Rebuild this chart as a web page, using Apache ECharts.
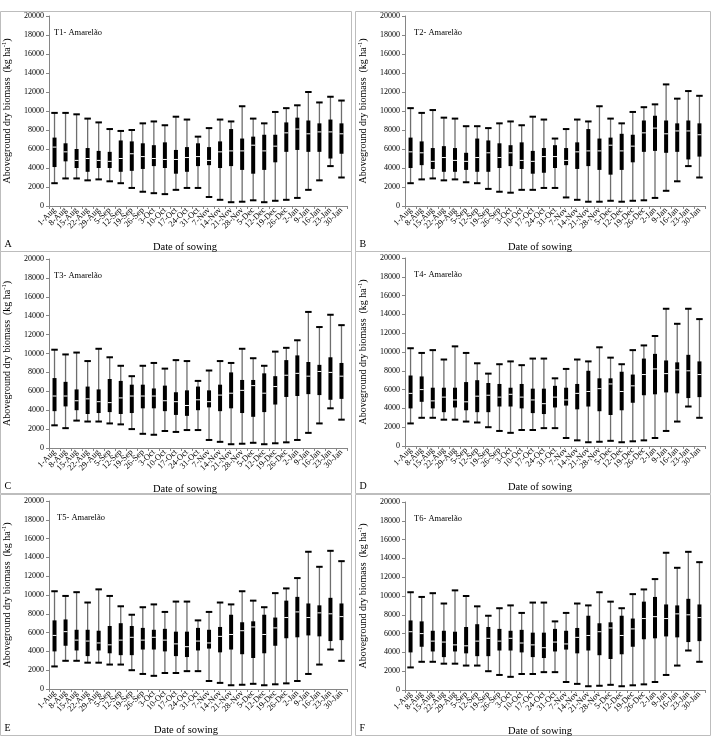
<!DOCTYPE html>
<html><head><meta charset="utf-8">
<script src="https://cdn.jsdelivr.net/npm/echarts@6/dist/echarts.min.js"></script>
<style>html,body{margin:0;padding:0;background:#fff}#c{width:714px;height:744px}</style>
</head><body><div id="c"></div>
<script>
// Categories (date of sowing)
const dates = ['1-Aug','8-Aug','15-Aug','22-Aug','29-Aug','5-Sep','12-Sep','19-Sep','26-Sep','3-Oct','10-Oct','17-Oct','24-Oct','31-Oct','7-Nov','14-Nov','21-Nov','28-Nov','5-Dec','12-Dec','19-Dec','26-Dec','2-Jan','9-Jan','16-Jan','23-Jan','30-Jan'];
const yTicks = [0,2000,4000,6000,8000,10000,12000,14000,16000,18000,20000];
const panelTitles = ['T1- Amarelão','T2- Amarelão','T3- Amarelão','T4- Amarelão','T5- Amarelão','T6- Amarelão'];
const panelLetters = ['A','B','C','D','E','F'];
// each entry: [min, q1, median, q3, max]  (kg ha-1)
const t1 = [[2400,4100,6200,7200,9800],[2900,4700,5700,6600,9800],[2900,4000,4800,6000,9650],[2700,3600,5000,6100,9200],[2800,4000,4800,5800,8800],[2600,4000,4700,5700,8100],[2400,3600,5000,6900,7900],[1900,3700,5500,6800,8000],[1500,3900,5200,6600,8700],[1350,4200,5000,6400,8900],[1250,4000,4900,6700,8500],[1700,3400,4900,5900,9400],[1900,3600,5100,6200,9100],[1900,4200,5200,6600,7300],[950,4300,4800,6200,8200],[650,4000,5700,6800,9100],[400,4200,5800,8100,8900],[450,3800,5800,7100,10500],[600,3400,6400,7300,9200],[400,3800,5800,7500,8700],[550,4600,6300,7500,9900],[650,5700,7700,8800,10300],[850,5900,8100,9300,10600],[1700,5700,7600,9000,12000],[2700,5700,7800,8700,10900],[4200,5000,7800,9100,11500],[3000,5500,7600,8700,11100]];
const t2 = [[2400,4000,5700,7200,10300],[2800,4300,5600,6800,9800],[2900,3900,4700,6100,10100],[2700,3600,5100,6300,9300],[2800,3600,4800,6100,9200],[2500,3800,4700,5600,8400],[2400,3600,5100,7100,8400],[1800,3600,5600,6900,8200],[1500,4000,5100,6600,8700],[1400,4200,5600,6400,8900],[1700,3900,4800,6700,8500],[1700,3400,4700,5800,9400],[1900,3500,5200,6100,9100],[1900,4000,5200,6400,7100],[900,4300,4800,6100,8100],[650,3900,5700,6700,9100],[450,4200,5800,8100,8900],[450,3800,5800,7100,10500],[550,3300,6400,7200,9200],[450,3800,5800,7600,8700],[550,4600,6300,7500,9900],[600,5700,7700,9000,10400],[850,5800,8200,9500,10700],[1600,5600,7600,9000,12800],[2600,5700,7900,8700,11300],[4200,4900,7900,9000,12100],[3000,5200,7500,8700,11600]];
const t3 = [[2400,3900,5500,7400,10400],[2100,4400,5500,7000,9900],[2900,4000,5000,6200,10100],[2800,3600,5200,6500,9200],[2800,3700,4900,6200,10500],[2600,3800,4800,7300,9600],[2500,3600,5300,7100,8700],[2000,3700,5500,6700,7600],[1500,4200,5500,6700,8700],[1400,4200,5500,6300,9000],[1800,3900,5000,6600,8400],[1700,3500,4900,5900,9300],[1900,3400,4500,6100,9200],[1900,4000,5100,6500,7100],[850,4300,4900,6100,8200],[650,3900,5600,6700,9200],[400,4200,5800,8000,9000],[450,3700,6100,7200,10500],[550,3300,6600,7200,9500],[400,3800,5800,7900,8700],[500,4600,6500,7600,10200],[600,5400,7700,9300,10600],[850,5500,7900,9800,11400],[1600,5700,7600,9100,14400],[2600,5600,8100,8800,12800],[4200,5100,8000,9600,14100],[3000,5200,7600,9000,13000]];
const t4 = [[2400,4000,5600,7500,10400],[3000,4700,6000,7400,9900],[3000,4000,4800,6200,10200],[2800,3600,5200,6200,9200],[2800,4100,4900,6200,10600],[2600,3800,4700,6800,9900],[2500,3600,5300,7000,8800],[2000,3600,5400,6700,7700],[1600,4200,5200,6600,8700],[1400,4200,5500,6200,9000],[1700,4000,5200,6600,8600],[1700,3500,4900,6100,9300],[1900,3400,4500,6100,9300],[1900,4100,5200,6400,7200],[850,4300,4900,6200,8200],[600,3900,5600,6600,9200],[400,4200,5800,8000,9000],[450,3700,6100,7200,10500],[550,3300,6600,7200,9400],[400,3800,5800,7900,8700],[500,4600,6400,7600,10200],[600,5400,7600,9300,10700],[850,5500,8200,9800,11700],[1600,5700,7700,9100,14600],[2600,5600,8100,8900,13000],[4200,5100,8000,9700,14600],[3000,5200,7600,9000,13500]];
const t5 = [[2400,4000,5700,7300,10400],[3000,4600,6100,7400,9900],[3000,4100,5200,6300,10300],[2800,3500,5100,6300,9200],[2800,4100,4900,6200,10600],[2600,3800,4700,6700,9900],[2600,3600,5200,7000,8800],[2000,3600,5500,6700,7900],[1600,4200,5200,6500,8700],[1400,4200,5500,6300,9000],[1700,4000,5200,6400,8200],[1700,3500,4800,6100,9300],[1900,3400,4500,6100,9300],[1900,4100,5100,6500,7300],[850,4300,4900,6300,8200],[650,3900,5600,6600,9200],[400,4200,5800,7900,9000],[450,3700,6200,7100,10400],[550,3300,6600,7200,9400],[400,3800,5800,7900,8700],[500,4600,6500,7600,10200],[600,5400,7600,9400,10700],[850,5500,8200,9800,11800],[1600,5700,7600,9100,14600],[2600,5600,8100,8900,13000],[4200,5100,8000,9700,14700],[3000,5200,7700,9100,13600]];
const t6 = [[2400,4000,6200,7400,10400],[3000,4600,6000,7300,9900],[3000,4100,5200,6300,10300],[2800,3500,5100,6300,9200],[2800,4100,4800,6200,10600],[2600,3900,4700,6700,10000],[2600,3600,5200,7000,8900],[2000,3600,5500,6700,7900],[1600,4200,5200,6500,8700],[1400,4200,5500,6300,9000],[1700,4000,5000,6400,8200],[1700,3500,4800,6100,9300],[1900,3400,4500,6100,9300],[1900,4100,5100,6500,7300],[850,4300,4900,6300,8200],[650,3900,5600,6600,9200],[400,4200,5800,7900,9000],[450,3700,6200,7100,10400],[550,3300,6600,7200,9400],[400,3800,5800,7900,8700],[500,4600,6500,7600,10200],[600,5400,7600,9400,10700],[850,5500,7800,9900,11800],[1600,5700,7600,9100,14600],[2600,5600,8100,9000,13000],[4200,5100,8000,9700,14700],[3000,5200,7700,9100,13600]];
const panels = [t1,t2,t3,t4,t5,t6];

const FONT = "'Liberation Serif','Times New Roman',serif";
// grid geometry for each panel
const grids = [
  {left:45, top:16, width:302, height:190},
  {left:405, top:16, width:300, height:190},
  {left:45, top:259, width:302, height:189},
  {left:405, top:258, width:300, height:188},
  {left:48, top:501, width:299, height:188},
  {left:405, top:502, width:300, height:188}
];
const frames = [
  {x:0.5, y:11.5, w:351, h:240},
  {x:355.5, y:11.5, w:355, h:240},
  {x:0.5, y:251.5, w:351, h:242},
  {x:355.5, y:251.5, w:355, h:242},
  {x:0.5, y:494.5, w:351, h:241},
  {x:355.5, y:494.5, w:355, h:241}
];
const nameShift = [26, 30, 26, 30, 24, 30];

function renderBox(params, api){
  const i = api.value(0);
  const pMin = api.coord([i, api.value(1)]);
  const pQ1 = api.coord([i, api.value(2)]);
  const pMd = api.coord([i, api.value(3)]);
  const pQ3 = api.coord([i, api.value(4)]);
  const pMax = api.coord([i, api.value(5)]);
  const x = pMin[0];
  const bw = 4, cw = 6.5;
  return {type:'group', children:[
    {type:'line', shape:{x1:x, y1:pMin[1], x2:x, y2:pMax[1]}, style:{stroke:'#6e6e6e', lineWidth:1.3}},
    {type:'rect', shape:{x:x-bw/2, y:pQ3[1], width:bw, height:pQ1[1]-pQ3[1]}, style:{fill:'#000'}},
    {type:'line', shape:{x1:x-bw/2, y1:pMd[1], x2:x+bw/2, y2:pMd[1]}, style:{stroke:'#fff', lineWidth:1}},
    {type:'line', shape:{x1:x-cw/2, y1:pMin[1], x2:x+cw/2, y2:pMin[1]}, style:{stroke:'#000', lineWidth:2}},
    {type:'line', shape:{x1:x-cw/2, y1:pMax[1], x2:x+cw/2, y2:pMax[1]}, style:{stroke:'#000', lineWidth:2}}
  ]};
}

const option = {
  animation:false,
  backgroundColor:'#fff',
  grid: grids,
  xAxis: grids.map((g,k)=>({
    type:'category', gridIndex:k, data:dates, boundaryGap:true,
    name:'Date of sowing', nameLocation:'middle', nameGap:36,
    nameTextStyle:{fontFamily:FONT, fontSize:10.5, color:'#000', padding:[0,nameShift[k],0,0]},
    axisLine:{lineStyle:{color:'#868686', width:1}},
    axisTick:{show:true, length:3, lineStyle:{color:'#868686'}},
    axisLabel:{rotate:45, interval:0, fontFamily:FONT, fontSize:8.5, color:'#000', margin:3}
  })),
  yAxis: grids.map((g,k)=>({
    type:'value', gridIndex:k, min:yTicks[0], max:yTicks[yTicks.length-1], interval:yTicks[1]-yTicks[0],
    name:'Aboveground dry biomass  (kg ha{sup|-1})', nameLocation:'middle', nameGap:36,
    nameTextStyle:{fontFamily:FONT, fontSize:10, color:'#000',
      rich:{sup:{fontFamily:FONT, fontSize:6.5, color:'#000', verticalAlign:'top', padding:[0,0,5,0]}}},
    splitLine:{show:false},
    axisLine:{show:true, lineStyle:{color:'#868686', width:1}},
    axisTick:{show:true, length:3, lineStyle:{color:'#868686'}},
    axisLabel:{fontFamily:FONT, fontSize:8, color:'#000', margin:5, formatter:(v)=>String(v)}
  })),
  series: panels.map((d,k)=>({
    type:'custom', xAxisIndex:k, yAxisIndex:k,
    renderItem: renderBox,
    encode:{x:0, y:[1,2,3,4,5]},
    data: d.map((v,i)=>[i, v[0], v[1], v[2], v[3], v[4]])
  })),
  graphic: [].concat(
    frames.map(f=>({type:'rect', silent:true, z:-1, shape:{x:f.x, y:f.y, width:f.w, height:f.h}, style:{fill:null, stroke:'#bdbdbd', lineWidth:1}})),
    grids.map((g,k)=>({type:'text', left:g.left+9, top:g.top+12, style:{text:panelTitles[k], font:'8.5px '+FONT, fill:'#000'}})),
    frames.map((f,k)=>({type:'text', left:f.x+4, top:f.y+f.h-12, style:{text:panelLetters[k], font:'10px '+FONT, fill:'#000'}}))
  )
};
const chart = echarts.init(document.getElementById('c'), null, {renderer:'canvas'});
chart.setOption(option);
</script></body></html>
